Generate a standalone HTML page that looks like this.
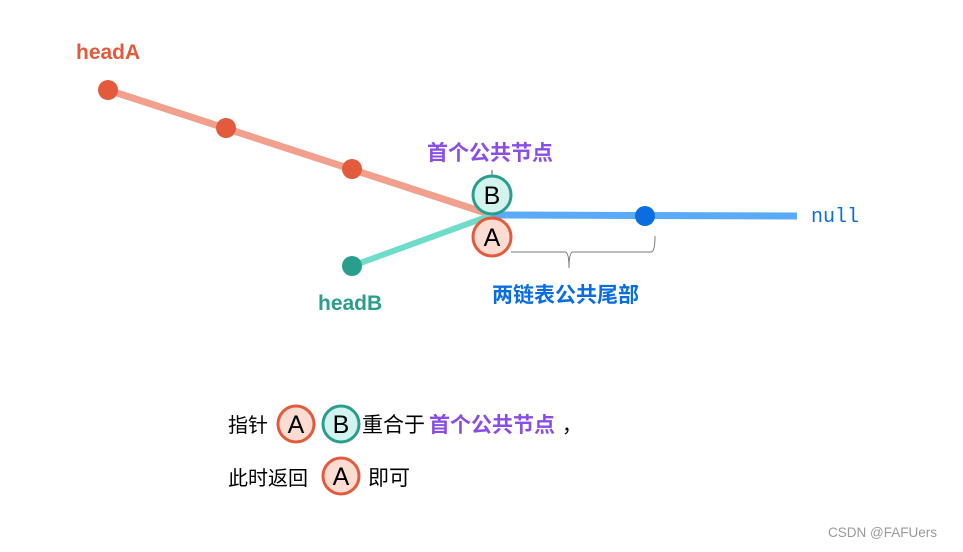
<!DOCTYPE html>
<html><head><meta charset="utf-8"><style>
body{margin:0;background:#fff;}
svg text{font-family:"Liberation Sans","Noto Sans CJK SC",sans-serif;}
</style></head><body>
<svg width="963" height="547" viewBox="0 0 963 547" xmlns="http://www.w3.org/2000/svg">
<rect width="963" height="547" fill="#fff"/>
<text x="76" y="59" font-size="21" font-weight="bold" fill="#e35a3c">headA</text>
<line x1="108" y1="90" x2="492" y2="215" stroke="#f0a08c" stroke-width="7"/>
<line x1="352" y1="266" x2="492" y2="215" stroke="#6fdcc9" stroke-width="6"/>
<line x1="492" y1="215" x2="797" y2="216" stroke="#5aaaf7" stroke-width="7"/>
<circle cx="108" cy="90" r="10" fill="#e35a3c"/>
<circle cx="226" cy="128" r="10" fill="#e35a3c"/>
<circle cx="352" cy="169" r="10" fill="#e35a3c"/>
<circle cx="352" cy="266" r="10" fill="#2a9e8c"/>
<circle cx="645" cy="216" r="10" fill="#0a6ee0"/>
<text x="318" y="310" font-size="21" font-weight="bold" fill="#2a9e8c">headB</text>
<text x="811" y="222" font-size="20" fill="#0a6ee0" style="font-family:'Liberation Mono',monospace">null</text>
<text x="427" y="160" font-size="21" font-weight="bold" fill="#8b4de8">首个公共节点</text>
<line x1="492" y1="170" x2="492" y2="176" stroke="#555" stroke-width="1"/>
<circle cx="492" cy="195" r="19" fill="#d2f3ee" stroke="#2a9e8c" stroke-width="3"/>
<text x="492" y="204" font-size="25" text-anchor="middle" fill="#000">B</text>
<circle cx="492" cy="237" r="19" fill="#fadcd3" stroke="#e35a3c" stroke-width="3"/>
<text x="492" y="246" font-size="25" text-anchor="middle" fill="#000">A</text>
<path d="M511,252 L565,252 Q569,252 569,268 Q569,252 573,252 L651,252 Q655,252 655,236" fill="none" stroke="#777" stroke-width="1"/>
<text x="492" y="302" font-size="21" font-weight="bold" fill="#0a6ee0">两链表公共尾部</text>
<text x="228" y="432" font-size="20" fill="#000">指针</text>
<circle cx="296" cy="424" r="18" fill="#fadcd3" stroke="#e35a3c" stroke-width="3"/>
<text x="296" y="433" font-size="25" text-anchor="middle" fill="#000">A</text>
<circle cx="341" cy="424" r="18" fill="#d2f3ee" stroke="#2a9e8c" stroke-width="3"/>
<text x="341" y="433" font-size="25" text-anchor="middle" fill="#000">B</text>
<text x="362" y="432" font-size="21" fill="#000">重合于</text>
<text x="429" y="432" font-size="21" font-weight="bold" fill="#8b4de8">首个公共节点</text>
<text x="562" y="432" font-size="20" fill="#000">，</text>
<text x="228" y="485" font-size="20" fill="#000">此时返回</text>
<circle cx="341" cy="476" r="18" fill="#fadcd3" stroke="#e35a3c" stroke-width="3"/>
<text x="341" y="485" font-size="25" text-anchor="middle" fill="#000">A</text>
<text x="368" y="485" font-size="21" fill="#000">即可</text>
<text x="828" y="537" font-size="13.5" fill="#999">CSDN @FAFUers</text>
</svg>
</body></html>
